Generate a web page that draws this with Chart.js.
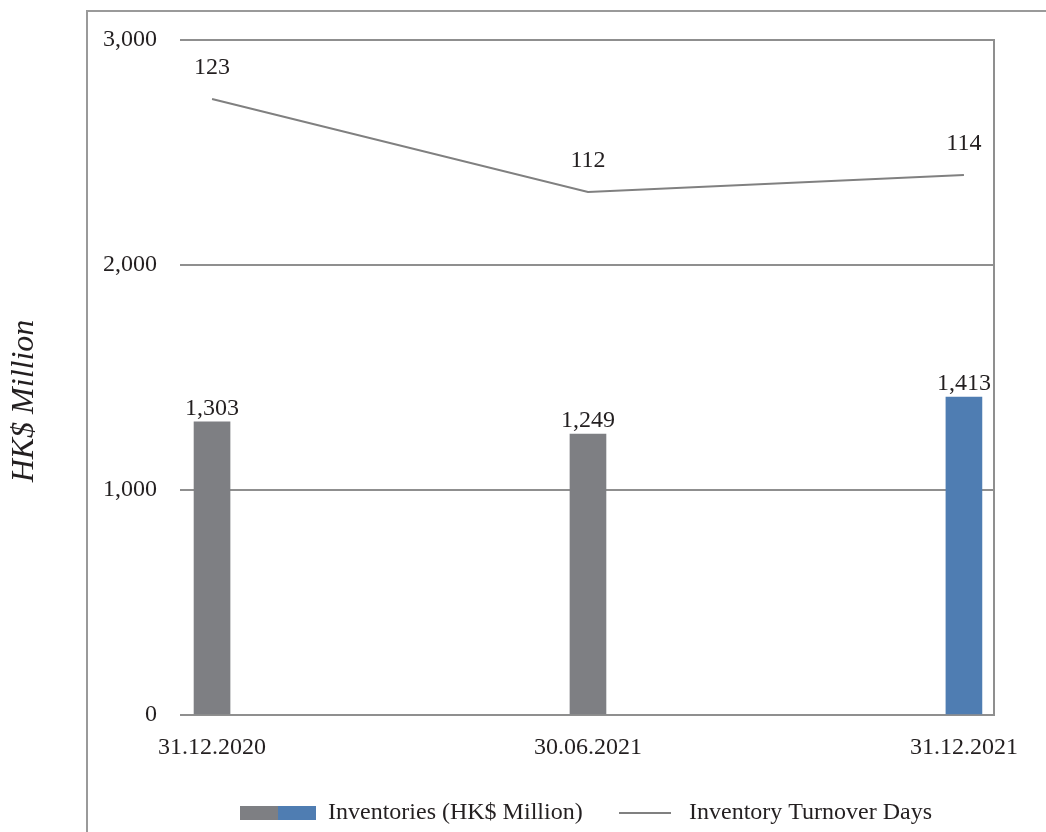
<!DOCTYPE html>
<html>
<head>
<meta charset="utf-8">
<title>Inventories and Inventory Turnover Days</title>
<script src="https://cdn.jsdelivr.net/npm/chart.js@4/dist/chart.umd.min.js"></script>
<style>
  html, body { margin: 0; padding: 0; background: #ffffff; }
  #wrap { width: 1046px; height: 832px; position: relative; }
</style>
</head>
<body>
<div id="wrap"><canvas id="c" width="1046" height="832"></canvas></div>
<script>
// Period-end dates on the category axis
const periods = ['31.12.2020', '30.06.2021', '31.12.2021'];
// Inventories, HK$ million (bars)
const inventories = [1303, 1249, 1413];
// Inventory turnover, days (line)
const turnoverDays = [123, 112, 114];
// Left axis ticks, HK$ million
const inventoryTicks = [0, 1000, 2000, 3000];

const legendLabels = ['Inventories (HK$ Million)', 'Inventory Turnover Days'];
const axisTitle = 'HK$ Million';

const GRAY_BAR = '#7e7f83';
const BLUE_BAR = '#4f7db2';
const LINE_COLOR = '#808080';
const GRID_COLOR = '#8f8f8f';
const TEXT_COLOR = '#231f20';
const SERIF = '"Liberation Serif", "Times New Roman", serif';

const fmt = v => v.toLocaleString('en-US');

const barPoints = inventories.map((v, i) => ({ x: i, y: v }));
const linePoints = turnoverDays.map((v, i) => ({ x: i, y: v }));
const barColors = inventories.map((v, i) => i === inventories.length - 1 ? BLUE_BAR : GRAY_BAR);

// Outer frame, axis title, right plot border, value labels and legend
const decorations = {
  id: 'decorations',
  beforeDraw(chart) {
    const ctx = chart.ctx;
    ctx.save();
    ctx.strokeStyle = '#9a9a9a';
    ctx.lineWidth = 2;
    ctx.strokeRect(87, 11, 1100, 1000);

    // vertical axis title
    ctx.translate(25, 401);
    ctx.rotate(-Math.PI / 2);
    ctx.fillStyle = TEXT_COLOR;
    ctx.font = 'italic 32px ' + SERIF;
    ctx.textAlign = 'center';
    ctx.textBaseline = 'middle';
    ctx.fillText(axisTitle, 0, 0);
    ctx.restore();
  },
  afterDatasetsDraw(chart) {
    const ctx = chart.ctx;
    const area = chart.chartArea;
    ctx.save();
    // right edge of plot area
    ctx.strokeStyle = GRID_COLOR;
    ctx.lineWidth = 2;
    ctx.beginPath();
    ctx.moveTo(Math.round(area.right), area.top - 1);
    ctx.lineTo(Math.round(area.right), area.bottom + 1);
    ctx.stroke();

    ctx.fillStyle = TEXT_COLOR;
    ctx.font = '24px ' + SERIF;
    ctx.textAlign = 'center';
    ctx.textBaseline = 'middle';
    chart.getDatasetMeta(0).data.forEach((el, i) => {
      ctx.fillText(fmt(inventories[i]), el.x, el.y - 13);
    });
    chart.getDatasetMeta(1).data.forEach((el, i) => {
      ctx.fillText(String(turnoverDays[i]), el.x, el.y - 31);
    });

    // legend
    const ly = 813;
    ctx.fillStyle = GRAY_BAR;
    ctx.fillRect(240, ly - 7, 38, 14);
    ctx.fillStyle = BLUE_BAR;
    ctx.fillRect(278, ly - 7, 38, 14);
    ctx.strokeStyle = LINE_COLOR;
    ctx.lineWidth = 2;
    ctx.beginPath();
    ctx.moveTo(619, ly);
    ctx.lineTo(671, ly);
    ctx.stroke();
    ctx.fillStyle = TEXT_COLOR;
    ctx.textAlign = 'left';
    ctx.fillText(legendLabels[0], 328, ly);
    ctx.fillText(legendLabels[1], 689, ly);
    ctx.restore();
  }
};

new Chart(document.getElementById('c'), {
  type: 'bar',
  data: {
    datasets: [
      {
        type: 'bar',
        label: legendLabels[0],
        data: barPoints,
        backgroundColor: barColors,
        barThickness: 36,
        yAxisID: 'y',
        order: 2
      },
      {
        type: 'line',
        label: legendLabels[1],
        data: linePoints,
        borderColor: LINE_COLOR,
        borderWidth: 2,
        pointRadius: 0,
        tension: 0,
        fill: false,
        yAxisID: 'y1',
        order: 1
      }
    ]
  },
  options: {
    responsive: false,
    animation: false,
    events: [],
    layout: { padding: { top: 40, right: 52, bottom: 0, left: 0 } },
    plugins: {
      legend: { display: false },
      tooltip: { enabled: false }
    },
    scales: {
      x: {
        type: 'linear',
        offset: false,
        min: -0.0852,
        max: 2.08,
        grid: { display: false },
        border: { display: false },
        afterBuildTicks(scale) {
          scale.ticks = periods.map((p, i) => ({ value: i }));
        },
        afterFit(scale) { scale.height = 117; },
        ticks: {
          color: TEXT_COLOR,
          font: { family: SERIF, size: 24 },
          padding: 10,
          maxRotation: 0,
          autoSkip: false,
          callback: v => periods[v]
        }
      },
      y: {
        position: 'left',
        min: inventoryTicks[0],
        max: inventoryTicks[inventoryTicks.length - 1],
        afterBuildTicks(scale) {
          scale.ticks = inventoryTicks.map(v => ({ value: v }));
        },
        afterFit(scale) { scale.width = 180; },
        grid: { color: GRID_COLOR, lineWidth: 2, drawTicks: false },
        border: { display: false },
        ticks: {
          color: TEXT_COLOR,
          font: { family: SERIF, size: 24 },
          padding: 23,
          callback: v => fmt(v)
        }
      },
      y1: {
        display: false,
        min: 50,
        max: 130
      }
    }
  },
  plugins: [decorations]
});
</script>
</body>
</html>
